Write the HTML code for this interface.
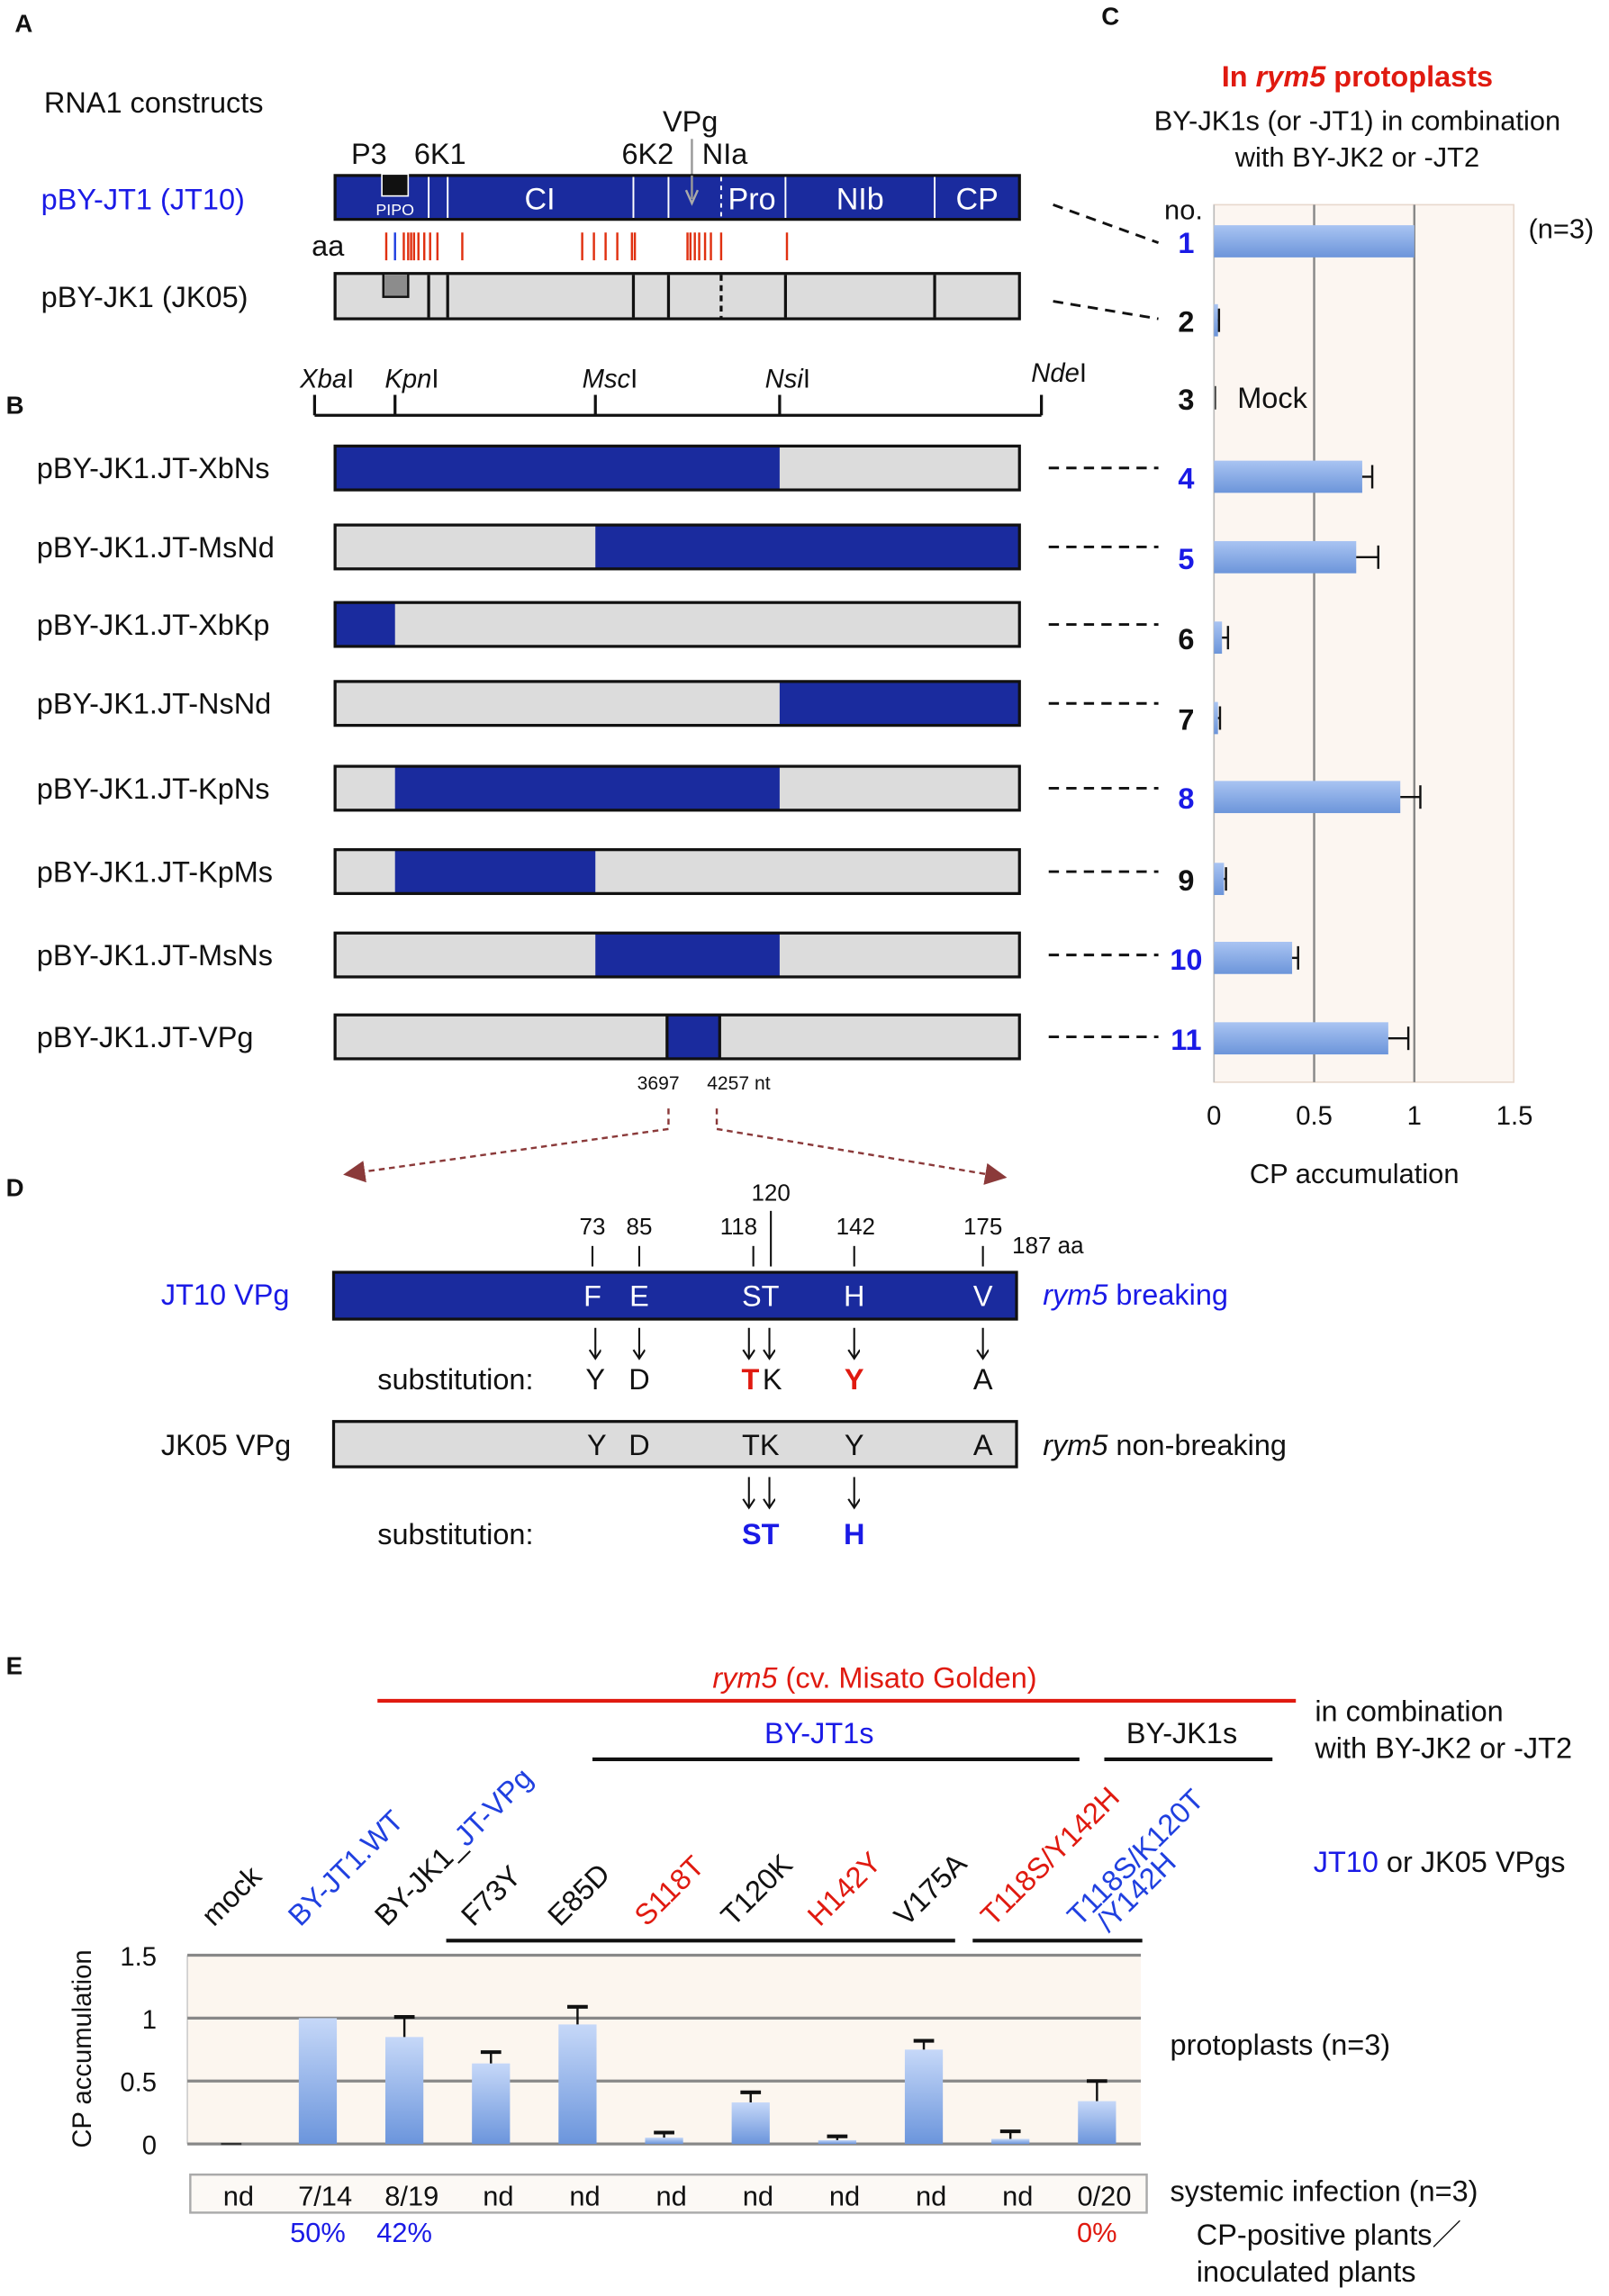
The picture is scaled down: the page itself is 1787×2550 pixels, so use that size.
<!DOCTYPE html>
<html><head><meta charset="utf-8"><style>
html,body{margin:0;padding:0;background:#fff}
svg{display:block}
text{font-family:"Liberation Sans",Arial,sans-serif;fill:#111}
</style></head><body>
<svg id="fig" width="1787" height="2550" viewBox="0 0 1100 1570" xmlns="http://www.w3.org/2000/svg">
<defs>
<linearGradient id="gv" x1="0" y1="0" x2="0" y2="1"><stop offset="0" stop-color="#c6d8f8"/><stop offset="1" stop-color="#6b95dc"/></linearGradient>
<linearGradient id="gh" x1="0" y1="0" x2="0" y2="1"><stop offset="0" stop-color="#a9c4f2"/><stop offset="1" stop-color="#6c95da"/></linearGradient>
<marker id="ah" markerWidth="10" markerHeight="10" refX="9" refY="5" orient="auto"><path d="M0,0 L10,5 L0,10 z" fill="#8b3a3a"/></marker>
<marker id="ak" markerWidth="10" markerHeight="10" refX="7" refY="4" orient="auto" markerUnits="userSpaceOnUse"><path d="M1,0 L7,4 L1,8" fill="none" stroke="#111" stroke-width="1.3"/></marker>
</defs>

<!-- Panel A -->
<g>
<text x="10" y="22" font-size="17" font-weight="bold">A</text>
<text x="30" y="77" font-size="20">RNA1 constructs</text>
<text x="240" y="112" font-size="20">P3</text>
<text x="283" y="112" font-size="20">6K1</text>
<text x="425" y="112" font-size="20">6K2</text>
<text x="480" y="112" font-size="20">NIa</text>
<text x="453" y="90" font-size="20">VPg</text>
<line x1="473" y1="95" x2="473" y2="133" stroke="#999" stroke-width="1.5"/>
<text x="28" y="143" font-size="20" style="fill:#1a1ae6">pBY-JT1 (JT10)</text>
<rect x="229" y="120" width="468" height="30" fill="#1a2b9e" stroke="#111" stroke-width="2"/>
<g stroke="#fff" stroke-width="1.2">
<line x1="293" y1="121" x2="293" y2="149"/><line x1="306" y1="121" x2="306" y2="149"/><line x1="433" y1="121" x2="433" y2="149"/><line x1="457" y1="121" x2="457" y2="149"/><line x1="493" y1="121" x2="493" y2="149" stroke-dasharray="3,3"/><line x1="537" y1="121" x2="537" y2="149"/><line x1="639" y1="121" x2="639" y2="149"/>
</g>
<line x1="473" y1="120" x2="473" y2="136" stroke="#999" stroke-width="1.5"/>
<path d="M469,130 L473,139 L477,130" fill="none" stroke="#aaa" stroke-width="1.5"/>
<rect x="261" y="119" width="18" height="15" fill="#111" stroke="#fff" stroke-width="1"/>
<text x="270" y="147" font-size="11" text-anchor="middle" style="fill:#fff">PIPO</text>
<text x="369" y="143" font-size="21" text-anchor="middle" style="fill:#fff">CI</text>
<text x="514" y="143" font-size="21" text-anchor="middle" style="fill:#fff">Pro</text>
<text x="588" y="143" font-size="21" text-anchor="middle" style="fill:#fff">NIb</text>
<text x="668" y="143" font-size="21" text-anchor="middle" style="fill:#fff">CP</text>
<text x="213" y="175" font-size="20">aa</text>
<g id="aaticks" stroke="#e03010" stroke-width="1.5"></g>
<text x="28" y="210" font-size="20">pBY-JK1 (JK05)</text>
<rect x="229" y="187" width="468" height="31" fill="#dcdcdc" stroke="#111" stroke-width="2"/>
<g stroke="#111" stroke-width="2">
<line x1="293" y1="188" x2="293" y2="217"/><line x1="306" y1="188" x2="306" y2="217"/><line x1="433" y1="188" x2="433" y2="217"/><line x1="457" y1="188" x2="457" y2="217"/><line x1="493" y1="188" x2="493" y2="217" stroke-dasharray="4,3"/><line x1="537" y1="188" x2="537" y2="217"/><line x1="639" y1="188" x2="639" y2="217"/>
</g>
<rect x="262" y="187" width="17" height="16" fill="#8c8c8c" stroke="#111" stroke-width="1.5"/>
<line x1="720" y1="140" x2="792" y2="166" stroke="#111" stroke-width="1.8" stroke-dasharray="7,5"/>
<line x1="720" y1="206" x2="792" y2="218" stroke="#111" stroke-width="1.8" stroke-dasharray="7,5"/>
</g>

<!-- Panel B -->
<g>
<text x="4" y="283" font-size="17" font-weight="bold">B</text>
<line x1="215" y1="284" x2="712" y2="284" stroke="#111" stroke-width="2"/>
<g stroke="#111" stroke-width="2"><line x1="215" y1="270" x2="215" y2="284"/><line x1="270" y1="270" x2="270" y2="284"/><line x1="407" y1="270" x2="407" y2="284"/><line x1="533" y1="270" x2="533" y2="284"/><line x1="712" y1="270" x2="712" y2="284"/></g>
<g font-size="18"><text x="205" y="265"><tspan font-style="italic">Xba</tspan>I</text><text x="263" y="265"><tspan font-style="italic">Kpn</tspan>I</text><text x="398" y="265"><tspan font-style="italic">Msc</tspan>I</text><text x="523" y="265"><tspan font-style="italic">Nsi</tspan>I</text><text x="705" y="261"><tspan font-style="italic">Nde</tspan>I</text></g>
<g id="constructs"></g>
<text x="450" y="745" font-size="13" text-anchor="middle">3697</text>
<text x="505" y="745" font-size="13" text-anchor="middle">4257 nt</text>
<path d="M457,758 L457,772 L236,803" fill="none" stroke="#8b3a3a" stroke-width="1.5" stroke-dasharray="4,3" marker-end="url(#ah)"/>
<path d="M490,758 L490,772 L687,805" fill="none" stroke="#8b3a3a" stroke-width="1.5" stroke-dasharray="4,3" marker-end="url(#ah)"/>
</g>

<!-- Panel C -->
<g>
<text x="753" y="17" font-size="17" font-weight="bold">C</text>
<text x="928" y="59" font-size="20" font-weight="bold" text-anchor="middle" style="fill:#e01a10">In <tspan font-style="italic">rym5</tspan> protoplasts</text>
<text x="928" y="89" font-size="19" text-anchor="middle">BY-JK1s (or -JT1) in combination</text>
<text x="928" y="114" font-size="19" text-anchor="middle">with BY-JK2 or -JT2</text>
<text x="796" y="150" font-size="19">no.</text>
<text x="1045" y="163" font-size="19">(n=3)</text>
<g id="chartC"></g>
<text x="926" y="809" font-size="19" text-anchor="middle">CP accumulation</text>
</g>

<!-- Panel D -->
<g>
<text x="4" y="818" font-size="17" font-weight="bold">D</text>
<g font-size="16" text-anchor="middle">
<text x="405" y="844">73</text><text x="437" y="844">85</text><text x="505" y="844">118</text><text x="527" y="821">120</text><text x="585" y="844">142</text><text x="672" y="844">175</text>
</g>
<text x="692" y="857" font-size="16">187 aa</text>
<g stroke="#111" stroke-width="1.3"><line x1="405" y1="852" x2="405" y2="866"/><line x1="437" y1="852" x2="437" y2="866"/><line x1="515" y1="852" x2="515" y2="866"/><line x1="527" y1="828" x2="527" y2="866"/><line x1="584" y1="852" x2="584" y2="866"/><line x1="672" y1="852" x2="672" y2="866"/></g>
<text x="110" y="892" font-size="20" style="fill:#1a1ae6">JT10 VPg</text>
<rect x="228" y="870" width="467" height="32" fill="#1a2b9e" stroke="#111" stroke-width="2"/>
<g font-size="20" text-anchor="middle"><text x="405" y="893" style="fill:#fff">F</text><text x="437" y="893" style="fill:#fff">E</text><text x="520" y="893" style="fill:#fff">ST</text><text x="584" y="893" style="fill:#fff">H</text><text x="672" y="893" style="fill:#fff">V</text></g>
<text x="713" y="892" font-size="20" style="fill:#1a1ae6"><tspan font-style="italic">rym5</tspan> breaking</text>
<g stroke="#111" stroke-width="1.3" marker-end="url(#ak)"><line x1="407" y1="908" x2="407" y2="929"/><line x1="437" y1="908" x2="437" y2="929"/><line x1="512" y1="908" x2="512" y2="929"/><line x1="526" y1="908" x2="526" y2="929"/><line x1="584" y1="908" x2="584" y2="929"/><line x1="672" y1="908" x2="672" y2="929"/></g>
<text x="258" y="950" font-size="20">substitution:</text>
<g font-size="20" text-anchor="middle"><text x="407" y="950">Y</text><text x="437" y="950">D</text><text x="513" y="950" font-weight="bold" style="fill:#e01a10">T</text><text x="528" y="950">K</text><text x="584" y="950" font-weight="bold" style="fill:#e01a10">Y</text><text x="672" y="950">A</text></g>
<text x="110" y="995" font-size="20">JK05 VPg</text>
<rect x="228" y="972" width="467" height="31" fill="#dcdcdc" stroke="#111" stroke-width="2"/>
<g font-size="20" text-anchor="middle"><text x="408" y="995">Y</text><text x="437" y="995">D</text><text x="520" y="995">TK</text><text x="584" y="995">Y</text><text x="672" y="995">A</text></g>
<text x="713" y="995" font-size="20"><tspan font-style="italic">rym5</tspan> non-breaking</text>
<g stroke="#111" stroke-width="1.3" marker-end="url(#ak)"><line x1="512" y1="1010" x2="512" y2="1031"/><line x1="526" y1="1010" x2="526" y2="1031"/><line x1="584" y1="1010" x2="584" y2="1031"/></g>
<text x="258" y="1056" font-size="20">substitution:</text>
<text x="520" y="1056" font-size="20" font-weight="bold" text-anchor="middle" style="fill:#1a1ae6">ST</text>
<text x="584" y="1056" font-size="20" font-weight="bold" text-anchor="middle" style="fill:#1a1ae6">H</text>
</g>

<!-- Panel E -->
<g>
<text x="4" y="1145" font-size="17" font-weight="bold">E</text>
<text x="598" y="1154" font-size="20" text-anchor="middle" style="fill:#e01a10"><tspan font-style="italic">rym5</tspan> (cv. Misato Golden)</text>
<line x1="258" y1="1163" x2="886" y2="1163" stroke="#e01a10" stroke-width="2.5"/>
<text x="899" y="1177" font-size="20">in combination</text>
<text x="899" y="1202" font-size="20">with BY-JK2 or -JT2</text>
<text x="560" y="1192" font-size="20" text-anchor="middle" style="fill:#1a1ae6">BY-JT1s</text>
<line x1="405" y1="1203" x2="738" y2="1203" stroke="#111" stroke-width="2.5"/>
<text x="808" y="1192" font-size="20" text-anchor="middle">BY-JK1s</text>
<line x1="755" y1="1203" x2="870" y2="1203" stroke="#111" stroke-width="2.5"/>
<text x="898" y="1280" font-size="20"><tspan style="fill:#1a1ae6">JT10</tspan> or JK05 VPgs</text>
<line x1="305" y1="1327" x2="653" y2="1327" stroke="#111" stroke-width="2.5"/>
<line x1="665" y1="1327" x2="781" y2="1327" stroke="#111" stroke-width="2.5"/>
<g id="chartE"></g>
<text x="800" y="1405" font-size="20">protoplasts (n=3)</text>
<text x="800" y="1505" font-size="20">systemic infection (n=3)</text>
<text x="818" y="1535" font-size="20">CP-positive plants／</text>
<text x="818" y="1560" font-size="20">inoculated plants</text>
</g>
</svg>

<script>
var NS="http://www.w3.org/2000/svg";
function mk(tag,attrs,parent,txt){var e=document.createElementNS(NS,tag);for(var k in attrs)e.setAttribute(k,attrs[k]);if(txt!==undefined)e.textContent=txt;parent.appendChild(e);return e;}

// aa difference positions (display x)
var aaRed=[264,276,279,281,283,286,290,294,299,316,398,406,414,422,432,434,470,472,475,478,482,486,493,538];
var aaBlue=[270];

// Panel B constructs
var consNames=["pBY-JK1.JT-XbNs","pBY-JK1.JT-MsNd","pBY-JK1.JT-XbKp","pBY-JK1.JT-NsNd","pBY-JK1.JT-KpNs","pBY-JK1.JT-KpMs","pBY-JK1.JT-MsNs","pBY-JK1.JT-VPg"];
var consStart=[229,407,229,533,270,270,407,456];
var consEnd=[533,697,270,697,533,407,533,492];
var consTop=[305,359,412,466,524,581,638,694];

// Panel C chart data
var cNums=["1","2","3","4","5","6","7","8","9","10","11"];
var cBlue=[true,false,false,true,true,false,false,true,false,true,true];
var cVals=[1.0,0.02,0.0,0.74,0.71,0.04,0.02,0.93,0.05,0.39,0.87];
var cErr=[0,0.005,0,0.05,0.11,0.03,0.01,0.1,0.01,0.03,0.1];
var cTicks=[0,0.5,1,1.5];

// Panel E chart data
var eCats=["mock","BY-JT1.WT","BY-JK1_JT-VPg","F73Y","E85D","S118T","T120K","H142Y","V175A","T118S/Y142H","T118S/K120T"];
var eColors=["#111","#2040e0","#111","#111","#111","#e01a10","#111","#e01a10","#111","#e01a10","#2040e0"];
var eVals=[0.0,1.0,0.85,0.64,0.95,0.05,0.33,0.03,0.75,0.04,0.34];
var eErr=[0,0,0.16,0.09,0.14,0.04,0.08,0.03,0.07,0.06,0.16];
var eSys=["nd","7/14","8/19","nd","nd","nd","nd","nd","nd","nd","0/20"];
var ePct=["","50%","42%","","","","","","","","0%"];
var ePctCol=["#111","#1a1ae6","#1a1ae6","#111","#111","#111","#111","#111","#111","#111","#e01a10"];
var eTicks=[0,0.5,1,1.5];

var aag=document.getElementById('aaticks');
aaRed.forEach(function(x){var l=mk('line',{x1:x,y1:159,x2:x,y2:178},aag);

});
aaBlue.forEach(function(x){var l=mk('line',{x1:x,y1:159,x2:x,y2:178,stroke:'#2040e0'},aag);

});

var cg=document.getElementById('constructs');
for(var i=0;i<consNames.length;i++){
 var t=consTop[i];
 var lab=mk('text',{x:25,y:t+22,'font-size':20},cg,consNames[i]);
 
 
 var r=mk('rect',{x:229,y:t,width:468,height:30,fill:'#dcdcdc'},cg);
 
 
 var b=mk('rect',{x:consStart[i],y:t,width:consEnd[i]-consStart[i],height:30,fill:'#1a2b9e'},cg);
 
 
 mk('rect',{x:229,y:t,width:468,height:30,fill:'none',stroke:'#111','stroke-width':2},cg);
 if(i==7){mk('line',{x1:456,y1:t,x2:456,y2:t+30,stroke:'#111','stroke-width':2},cg);mk('line',{x1:492,y1:t,x2:492,y2:t+30,stroke:'#111','stroke-width':2},cg);}
 mk('line',{x1:717,y1:t+15,x2:792,y2:t+15,stroke:'#111','stroke-width':1.8,'stroke-dasharray':'7,5'},cg);
}

var cRowY=[165,219,272,326,381,436,491,545,601,655,710];
var C=document.getElementById('chartC');
function cx(v){return 830+v*137;}
var bgc=mk('rect',{x:830,y:140,width:205,height:600,fill:'#fcf6f1',stroke:'#e8d8cc','stroke-width':1},C);


cTicks.forEach(function(t){
 if(t>0&&t<1.5){var g=mk('line',{x1:cx(t),y1:140,x2:cx(t),y2:740,stroke:'#888','stroke-width':1.5},C);
 
 }
 var tl=mk('text',{x:cx(t),y:769,'font-size':18,'text-anchor':'middle'},C,String(t));
 
 
});
mk('line',{x1:830,y1:140,x2:830,y2:740,stroke:'#bbb','stroke-width':1},C);
for(var i=0;i<cVals.length;i++){
 var y=cRowY[i];
 var n=mk('text',{x:811,y:y+8,'font-size':20,'font-weight':'bold','text-anchor':'middle',style:'fill:'+(cBlue[i]?'#1a1ae6':'#111')},C,cNums[i]);
 
 
 var w=cx(cVals[i])-830;
 if(w>0){var b=mk('rect',{x:830,y:y-11,width:w,height:22,fill:'url(#gh)'},C);
 
 }
 else {mk('line',{x1:831,y1:y-8,x2:831,y2:y+8,stroke:'#333','stroke-width':1},C);}
 if(cErr[i]>0){var e1=cx(cVals[i]),e2=cx(cVals[i]+cErr[i]);
 var el=mk('line',{x1:e1,y1:y,x2:e2,y2:y,stroke:'#111','stroke-width':1.5},C);
 
 
 mk('line',{x1:e2,y1:y-8,x2:e2,y2:y+8,stroke:'#111','stroke-width':1.5},C);}
}
var mk3=mk('text',{x:846,y:279,'font-size':20},C,'Mock');



var E=document.getElementById('chartE');
function ey(v){return 1466-v*86;}
function ex(i){return 158+i*59.2;}
var bge=mk('rect',{x:128,y:1337,width:652,height:129,fill:'#fcf6ef'},E);


mk('line',{x1:128,y1:1337,x2:128,y2:1466,stroke:'#ccc','stroke-width':1},E);
eTicks.forEach(function(t){
 var g=mk('line',{x1:128,y1:ey(t),x2:780,y2:ey(t),stroke:'#888','stroke-width':2},E);
 
 
 var tl=mk('text',{x:107,y:ey(t)+7,'font-size':18,'text-anchor':'end'},E,String(t));
 
 
});
var yt=mk('text',{x:0,y:0,'font-size':18,'text-anchor':'middle',transform:'translate(62,1401) rotate(-90)'},E,'CP accumulation');


var tb=mk('rect',{x:130,y:1487,width:654,height:26,fill:'#fcf9f5',stroke:'#aaa','stroke-width':1.5},E);


for(var i=0;i<eVals.length;i++){
 var x=ex(i);
 var h=ey(0)-ey(eVals[i]);
 if(eVals[i]>0.005){var b=mk('rect',{x:x-13,y:ey(eVals[i]),width:26,height:h,fill:'url(#gv)'},E);
 
 }
 else {mk('line',{x1:x-7,y1:1466,x2:x+7,y2:1466,stroke:'#333','stroke-width':1.5},E);}
 if(eErr[i]>0){var t1=ey(eVals[i]),t2=ey(eVals[i]+eErr[i]);
 var el=mk('line',{x1:x,y1:t1,x2:x,y2:t2,stroke:'#111','stroke-width':1.5},E);
 
 
 mk('line',{x1:x-7,y1:t2,x2:x+7,y2:t2,stroke:'#111','stroke-width':2.5},E);}
 var s=mk('text',{x:x+5,y:1508,'font-size':19,'text-anchor':'middle'},E,eSys[i]);
 
 
 if(ePct[i]){var p=mk('text',{x:x,y:1533,'font-size':19,'text-anchor':'middle',style:'fill:'+ePctCol[i]},E,ePct[i]);
 
 }
 var lx=x-12,ly=1318;
 var lab=mk('text',{x:0,y:0,'font-size':20,transform:'translate('+lx+','+ly+') rotate(-45)',style:'fill:'+eColors[i]},E);
 
 
 if(i==2){mk('tspan',{},lab,'BY-JK1_');mk('tspan',{style:'fill:#2040e0'},lab,'JT-VPg');}
 else if(i==10){lab.textContent='T118S/K120T';
 var l2=mk('text',{x:0,y:0,'font-size':20,transform:'translate('+(lx+20)+','+(ly+4)+') rotate(-45)',style:'fill:#2040e0'},E,'/Y142H');
 
 }
 else lab.textContent=eCats[i];
}
</script>
</body></html>
